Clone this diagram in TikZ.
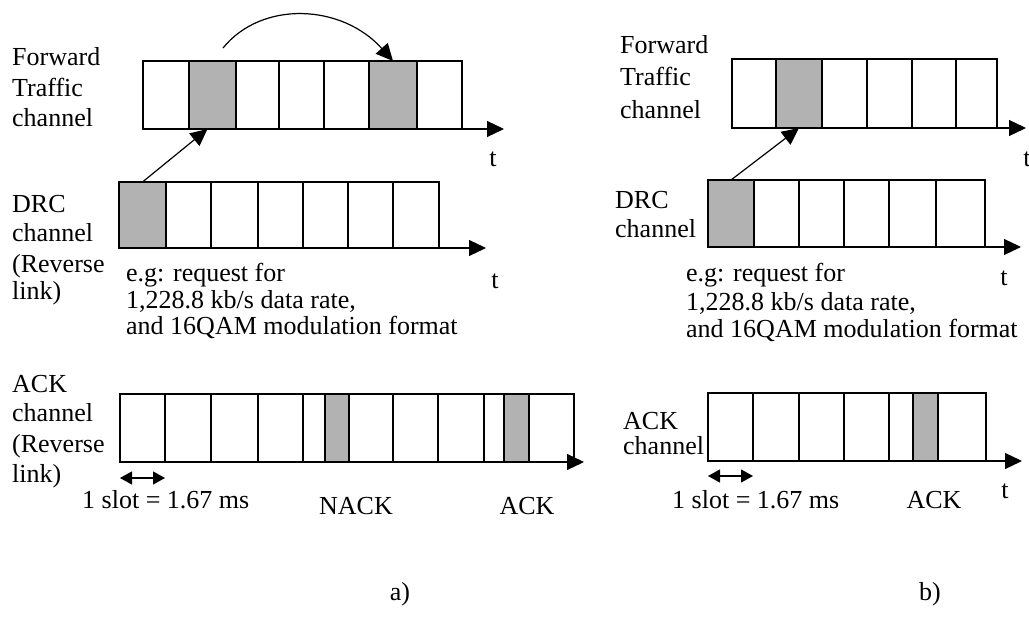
\documentclass[tikz,border=0pt]{standalone}
\usepackage{fontspec}
\setmainfont{Liberation Serif}
\usetikzlibrary{arrows.meta}
\newcommand{\cellrow}[4]{%
  \foreach \a/\b/\s [count=\i] in {#4} {%
    \node[cell,\s,minimum width={(\b-\a)*1pt},minimum height={(#3-#2)*1pt}]
      (#1\i) at ({(\a+\b)/2},{(#2+#3)/2}) {};
  }%
}
\begin{document}
\begin{tikzpicture}[x=1pt,y=-1pt,
  cell/.style={draw=black,line width=1.2pt,inner sep=0pt,outer sep=0pt},
  plain/.style={fill=white},
  shade/.style={fill=black!30},
  lbl/.style={font=\fontsize{26}{30}\selectfont,inner sep=0pt,anchor=base west},
  clbl/.style={font=\fontsize{26}{30}\selectfont,inner sep=0pt,anchor=base},
  tl/.style={line width=1.2pt,-{Triangle[length=17pt,width=16pt]}},
  link/.style={line width=1.2pt,-{Triangle[length=17pt,width=16pt]}},
  dbl/.style={line width=1.2pt,{Triangle[length=12pt,width=13pt]}-{Triangle[length=12pt,width=13pt]}}]
\useasboundingbox (0,0) rectangle (1029,618);

% ---------------- panel a) ----------------
\cellrow{fa}{61}{129}{143/189/plain,189/236/shade,236/279/plain,279/324/plain,324/369/plain,369/417/shade,417/462/plain}
\cellrow{da}{182}{248}{119/166/shade,166/211/plain,211/258/plain,258/303/plain,303/348/plain,348/393/plain,393/439/plain}
\cellrow{aa}{394}{462}{120/165/plain,165/211/plain,211/258/plain,258/303/plain,303/325/plain,325/349/shade,349/393/plain,393/438/plain,438/484/plain,484/504/plain,504/529/shade,529/574/plain}

\coordinate (faend) at (504,129);
\coordinate (daend) at (486,248);
\coordinate (aaend) at (584,462);
\draw[tl] (fa7.south west) -- (faend);
\draw[tl] (da7.south west) -- (daend);
\draw[tl] (aa12.south west) -- (aaend);

\coordinate (curvestart) at (223,48);
\draw[link] (curvestart) .. controls (262,0) and (342,4) .. (fa6.north);
\draw[link] (da1.north) -- ([xshift=-5pt]fa2.south);

\coordinate (sa1) at (120,478);
\coordinate (sa2) at (165,478);
\draw[dbl] (sa1) -- (sa2);

\node[lbl] (fwa1) at (12,66) {Forward};
\node[lbl] (fwa2) at (12,96) {Traffic};
\node[lbl] (fwa3) at (12,126) {channel};
\node[clbl] (tfa) at (493,166) {t};

\node[lbl] (dra1) at (12,212) {DRC};
\node[lbl] (dra2) at (12,241) {channel};
\node[lbl] (dra3) at (12,272) {(Reverse};
\node[lbl] (dra4) at (12,299) {link)};
\node[clbl] (tda) at (495,288) {t};

\node[lbl] (ega1) at (126,281) {e.g: request for};
\node[lbl] (ega2) at (126,308) {1,228.8 kb/s data rate,};
\node[lbl] (ega3) at (126,334) {and 16QAM modulation format};

\node[lbl] (aca1) at (12,392) {ACK};
\node[lbl] (aca2) at (12,421) {channel};
\node[lbl] (aca3) at (12,452) {(Reverse};
\node[lbl] (aca4) at (12,482) {link)};

\node[lbl] (sla) at (82,508) {1 slot = 1.67 ms};
\node[clbl] (nack) at (356,514) {NACK};
\node[clbl] (acka) at (527,514) {ACK};
\node[clbl] (capa) at (400,600) {a)};

% ---------------- panel b) ----------------
\cellrow{fb}{59}{128}{732/776/plain,776/822/shade,822/867/plain,867/912/plain,912/956/plain,956/997/plain}
\cellrow{db}{180}{247}{708/754/shade,754/799/plain,799/844/plain,844/889/plain,889/936/plain,936/985/plain}
\cellrow{ab}{393}{461}{708/753/plain,753/799/plain,799/844/plain,844/889/plain,889/913/plain,913/938/shade,938/986/plain}

\coordinate (fbend) at (1026,128);
\coordinate (dbend) at (1021,247);
\coordinate (abend) at (1022,461);
\draw[tl] (fb6.south west) -- (fbend);
\draw[tl] (db6.south west) -- (dbend);
\draw[tl] (ab7.south west) -- (abend);

\draw[link] (db1.north) -- (fb2.south);

\coordinate (sb1) at (708,476);
\coordinate (sb2) at (753,476);
\draw[dbl] (sb1) -- (sb2);

\node[lbl] (fwb1) at (620,54) {Forward};
\node[lbl] (fwb2) at (620,86) {Traffic};
\node[lbl] (fwb3) at (620,118) {channel};
\node[clbl] (tfb) at (1027,166) {t};

\node[lbl] (drb1) at (615,208) {DRC};
\node[lbl] (drb2) at (615,237) {channel};
\node[clbl] (tdb) at (1004,285) {t};

\node[lbl] (egb1) at (686,281) {e.g: request for};
\node[lbl] (egb2) at (686,310) {1,228.8 kb/s data rate,};
\node[lbl] (egb3) at (686,337) {and 16QAM modulation format};

\node[lbl] (acb1) at (623,429) {ACK};
\node[lbl] (acb2) at (623,454) {channel};
\node[clbl] (tab) at (1005,498) {t};

\node[lbl] (slb) at (672,508) {1 slot = 1.67 ms};
\node[clbl] (ackb) at (934,508) {ACK};
\node[clbl] (capb) at (930,600) {b)};
\end{tikzpicture}
\end{document}
